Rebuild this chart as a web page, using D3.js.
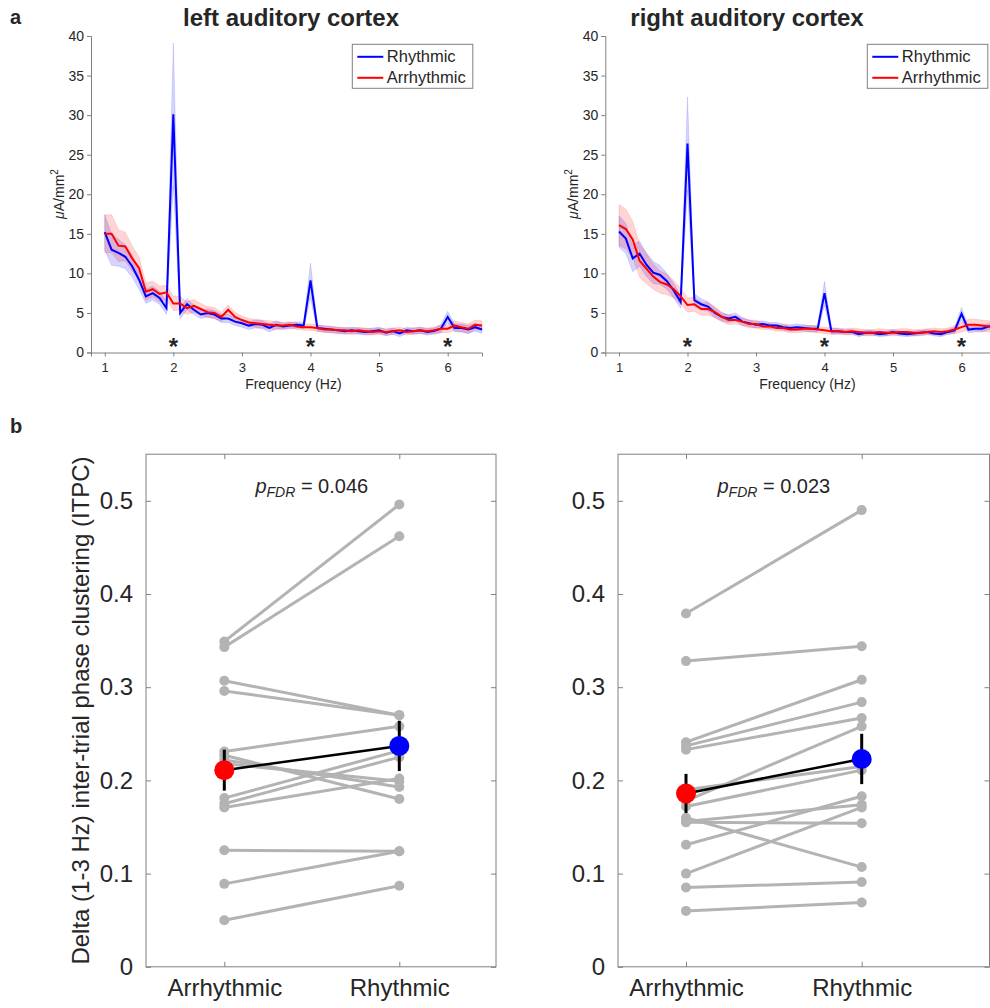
<!DOCTYPE html>
<html>
<head>
<meta charset="utf-8">
<script src="https://cdnjs.cloudflare.com/ajax/libs/d3/7.8.5/d3.min.js"></script>
<style>
body{margin:0;background:#fff;}
text{font-family:"Liberation Sans",Arial,sans-serif;fill:#262626;}
</style>
</head>
<body>
<div id="chart"></div>
<script>
var W = 990, H = 1008;

// ---- panel a: spectra, 0.1 Hz bins from 1 to 6.5 Hz
var freqs = d3.range(56).map(function(i){ return Math.round(10 + i) / 10; });
var starFreqs = [2, 4, 6];
var specTicksX = [1, 2, 3, 4, 5, 6];
var specTicksY = [0, 5, 10, 15, 20, 25, 30, 35, 40];

var leftRhy = [15.2,13.0,12.6,12.1,10.9,9.2,7.1,7.5,6.9,5.6,30.1,5.0,6.1,5.4,4.8,5.0,4.8,4.3,4.3,3.9,
  3.7,3.4,3.6,3.5,3.1,3.5,3.3,3.4,3.5,3.4,9.1,3.1,3.0,2.9,2.8,2.7,2.8,2.7,2.6,2.7,
  2.8,2.5,2.7,2.4,2.8,2.7,2.8,2.6,2.7,3.0,4.5,3.1,3.1,2.9,3.2,2.9];
var leftRhySem = [2.2,2.0,1.7,1.5,1.4,1.2,0.9,0.9,0.8,0.8,9.0,0.7,0.7,0.6,0.5,0.5,0.5,0.5,0.5,0.5,
  0.5,0.5,0.5,0.5,0.5,0.5,0.4,0.4,0.4,0.4,2.2,0.4,0.4,0.4,0.4,0.4,0.4,0.4,0.4,0.4,
  0.4,0.4,0.4,0.4,0.4,0.4,0.4,0.4,0.4,0.5,0.7,0.5,0.5,0.5,0.5,0.5];
var leftArr = [15.0,15.0,13.5,13.4,11.9,10.7,7.7,8.0,7.4,7.6,6.2,6.2,5.6,5.9,5.5,5.1,5.0,4.5,5.4,4.5,
  4.1,3.8,3.7,3.6,3.5,3.4,3.4,3.5,3.3,3.2,3.2,3.1,2.9,2.9,2.8,2.8,2.7,2.8,2.7,2.6,
  2.7,2.6,2.7,2.8,2.6,2.7,2.8,2.7,2.8,3.0,3.0,3.4,3.2,3.0,3.5,3.4];
var leftArrSem = [2.4,2.4,2.0,1.8,1.6,1.4,1.1,1.0,1.0,0.9,0.9,0.9,0.8,0.8,0.7,0.7,0.7,0.6,0.6,0.6,
  0.5,0.5,0.5,0.5,0.5,0.5,0.4,0.4,0.4,0.4,0.4,0.4,0.4,0.4,0.4,0.4,0.4,0.4,0.4,0.4,
  0.4,0.4,0.4,0.4,0.4,0.4,0.4,0.4,0.4,0.5,0.5,0.6,0.6,0.6,0.6,0.6];

var rightRhy = [15.3,14.4,11.9,12.5,11.1,10.1,9.8,9.0,7.8,6.4,26.4,6.6,6.1,5.8,5.0,4.5,4.3,4.5,3.9,3.7,
  3.5,3.6,3.4,3.4,3.2,3.1,3.2,3.1,3.0,3.0,7.5,2.7,2.7,2.6,2.6,2.3,2.5,2.5,2.3,2.4,
  2.6,2.4,2.3,2.4,2.5,2.6,2.4,2.3,2.6,2.8,4.9,2.9,3.0,3.0,3.3,3.2];
var rightRhySem = [2.0,1.9,1.7,1.6,1.5,1.4,1.2,1.0,0.9,0.8,5.9,0.8,0.7,0.6,0.6,0.5,0.5,0.5,0.5,0.4,
  0.4,0.4,0.4,0.4,0.4,0.4,0.4,0.4,0.4,0.4,1.5,0.4,0.3,0.3,0.3,0.3,0.3,0.3,0.3,0.3,
  0.3,0.3,0.3,0.3,0.3,0.3,0.3,0.3,0.3,0.4,0.8,0.4,0.4,0.4,0.4,0.4];
var rightArr = [16.1,15.6,14.3,11.6,10.6,9.6,8.9,8.6,8.0,7.1,6.0,6.1,5.5,5.5,5.1,4.5,4.1,4.1,3.9,3.6,
  3.6,3.3,3.3,3.1,3.1,2.9,2.9,3.0,3.0,2.9,2.8,2.7,2.7,2.6,2.7,2.6,2.5,2.5,2.6,2.5,
  2.5,2.6,2.6,2.5,2.5,2.6,2.7,2.6,2.7,2.9,3.2,3.5,3.5,3.4,3.3,3.4];
var rightArrSem = [2.6,2.5,2.3,2.1,1.9,1.6,1.4,1.3,1.1,1.0,0.9,0.9,0.8,0.8,0.7,0.6,0.6,0.5,0.5,0.5,
  0.5,0.4,0.4,0.4,0.4,0.4,0.4,0.4,0.4,0.4,0.4,0.4,0.4,0.4,0.4,0.4,0.4,0.4,0.4,0.4,
  0.4,0.4,0.4,0.4,0.4,0.4,0.4,0.4,0.4,0.5,0.6,0.7,0.7,0.7,0.7,0.7];

// ---- panel b: ITPC per subject (Arrhythmic, Rhythmic)
var conditions = ["Arrhythmic", "Rhythmic"];
var itpcTicks = [0, 0.1, 0.2, 0.3, 0.4, 0.5];
var leftArrItpc = [0.349,0.343,0.307,0.296,0.231,0.227,0.222,0.218,0.181,0.175,0.171,0.125,0.089,0.050];
var leftRhyItpc = [0.496,0.462,0.270,0.270,0.258,0.180,0.193,0.199,0.232,0.225,0.202,0.124,0.124,0.087];
var rightArrItpc = [0.379,0.328,0.241,0.237,0.233,0.190,0.178,0.172,0.160,0.156,0.155,0.131,0.100,0.085,0.060];
var rightRhyItpc = [0.490,0.344,0.308,0.284,0.267,0.215,0.258,0.211,0.107,0.174,0.154,0.183,0.171,0.091,0.069];
var leftMean = [0.211, 0.237], leftErr = [0.022, 0.027];
var rightMean = [0.186, 0.223], rightErr = [0.021, 0.027];
var pTexts = ["0.046", "0.023"];

var svg = d3.select("#chart").append("svg")
  .attr("width", W).attr("height", H)
  .style("font-family", "'Liberation Sans', Arial, sans-serif");

var axisCol = "#808080";

function styleAxis(g){
  g.select(".domain").attr("stroke", axisCol);
  g.selectAll(".tick line").attr("stroke", axisCol);
  g.selectAll(".tick text").attr("fill", "#262626");
}

function drawSpectrum(x0, x1, title, titleX, rhy, rhySem, arr, arrSem, legX){
  var xScale = d3.scaleLinear().domain([0.8, 6.5]).range([x0, x1]);
  var yScale = d3.scaleLinear().domain([0, 40]).range([352.5, 36]);
  var g = svg.append("g");

  var band = function(m, s){
    return d3.area()
      .x(function(d, i){ return xScale(freqs[i]); })
      .y0(function(d, i){ return yScale(m[i] - s[i]); })
      .y1(function(d, i){ return yScale(m[i] + s[i]); })(m);
  };
  var line = d3.line()
    .x(function(d, i){ return xScale(freqs[i]); })
    .y(function(d){ return yScale(d); });

  g.append("path").attr("d", band(rhy, rhySem))
    .attr("fill", "rgba(0,0,255,0.17)").attr("stroke", "rgba(0,0,255,0.15)").attr("stroke-width", 0.8);
  g.append("path").attr("d", band(arr, arrSem))
    .attr("fill", "rgba(255,0,0,0.17)").attr("stroke", "rgba(255,0,0,0.15)").attr("stroke-width", 0.8);
  g.append("path").attr("d", line(rhy)).attr("fill", "none").attr("stroke", "#0000ff").attr("stroke-width", 2);
  g.append("path").attr("d", line(arr)).attr("fill", "none").attr("stroke", "#ff0000").attr("stroke-width", 2);

  var ax = g.append("g").attr("transform", "translate(0,352.5)")
    .call(d3.axisBottom(xScale).tickValues(specTicksX).tickSize(4).tickFormat(d3.format("d")));
  ax.selectAll(".tick text").attr("font-size", 13).attr("dy", "0.95em");
  styleAxis(ax);
  var ay = g.append("g").attr("transform", "translate(" + x0 + ",0)")
    .call(d3.axisLeft(yScale).tickValues(specTicksY).tickSize(4));
  ay.selectAll(".tick text").attr("font-size", 14);
  styleAxis(ay);

  g.selectAll(".star").data(starFreqs).enter().append("text")
    .attr("x", function(d){ return xScale(d); }).attr("y", 355)
    .attr("text-anchor", "middle").attr("font-size", 24).attr("font-weight", "bold")
    .attr("fill", "#000").text("*");

  g.append("text").attr("x", xScale(3.75)).attr("y", 389).attr("text-anchor", "middle")
    .attr("font-size", 14).text("Frequency (Hz)");

  var yl = g.append("text").attr("transform", "translate(" + (x0 - 27) + ",194) rotate(-90)")
    .attr("text-anchor", "middle").attr("font-size", 14);
  yl.append("tspan").attr("font-style", "italic").text("\u03BC");
  yl.append("tspan").text("A/mm");
  yl.append("tspan").attr("dy", -6).attr("font-size", 10).text("2");

  g.append("text").attr("x", titleX).attr("y", 26).attr("text-anchor", "middle")
    .attr("font-size", 24).attr("font-weight", "bold").attr("fill", "#000").text(title);

  // legend
  var lg = g.append("g").attr("transform", "translate(" + legX + ",44.3)");
  lg.append("rect").attr("width", 120.5).attr("height", 44).attr("fill", "#fff")
    .attr("stroke", "#808080").attr("stroke-width", 1);
  var items = [["Rhythmic", "#0000ff"], ["Arrhythmic", "#ff0000"]];
  items.forEach(function(it, i){
    var yy = 12.5 + i * 21;
    lg.append("line").attr("x1", 5).attr("x2", 31).attr("y1", yy).attr("y2", yy)
      .attr("stroke", it[1]).attr("stroke-width", 2);
    lg.append("text").attr("x", 34.5).attr("y", yy + 5.5).attr("font-size", 16.5)
      .attr("fill", "#000").text(it[0]);
  });
}

drawSpectrum(91, 482, "left auditory cortex", 291, leftRhy, leftRhySem, leftArr, leftArrSem, 352.3);
drawSpectrum(605.3, 995.8, "right auditory cortex", 747, rightRhy, rightRhySem, rightArr, rightArrSem, 867.3);

// cat1/cat2: pixel positions of the two conditions; bx0/bx1: box edges
function drawItpc(cat1, cat2, bx0, bx1, arrV, rhyV, mean, err, pText){
  var xScale = d3.scaleLinear().domain([1, 2]).range([cat1, cat2]);
  var yScale = d3.scaleLinear().domain([0, 0.55]).range([966.8, 454.2]);
  var g = svg.append("g");

  g.append("rect").attr("x", bx0).attr("y", 454.2).attr("width", bx1 - bx0).attr("height", 966.8 - 454.2)
    .attr("fill", "none").attr("stroke", axisCol).attr("stroke-width", 1);

  var ay = g.append("g").attr("transform", "translate(" + bx0 + ",0)")
    .call(d3.axisLeft(yScale).tickValues(itpcTicks).tickSize(-5).tickPadding(13).tickFormat(function(d){ return d === 0 ? "0" : d3.format(".1f")(d); }));
  ay.selectAll(".tick text").attr("font-size", 24);
  ay.select(".domain").remove();
  styleAxis(ay);
  var ay2 = g.append("g").attr("transform", "translate(" + bx1 + ",0)")
    .call(d3.axisRight(yScale).tickValues(itpcTicks).tickSize(-5).tickFormat(""));
  ay2.select(".domain").remove();
  styleAxis(ay2);
  var ax = g.append("g").attr("transform", "translate(0,966.8)")
    .call(d3.axisBottom(xScale).tickValues([1, 2]).tickSize(-5).tickPadding(12).tickFormat(function(d){ return conditions[d - 1]; }));
  ax.selectAll(".tick text").attr("font-size", 24);
  ax.select(".domain").remove();
  styleAxis(ax);
  var ax2 = g.append("g").attr("transform", "translate(0,454.2)")
    .call(d3.axisTop(xScale).tickValues([1, 2]).tickSize(-5).tickFormat(""));
  ax2.select(".domain").remove();
  styleAxis(ax2);

  var grey = "#b3b3b3";
  arrV.forEach(function(v, i){
    g.append("line").attr("x1", xScale(1)).attr("y1", yScale(v))
      .attr("x2", xScale(2)).attr("y2", yScale(rhyV[i]))
      .attr("stroke", grey).attr("stroke-width", 3);
  });
  g.selectAll(".da").data(arrV).enter().append("circle")
    .attr("cx", xScale(1)).attr("cy", function(d){ return yScale(d); }).attr("r", 5).attr("fill", grey);
  g.selectAll(".dr").data(rhyV).enter().append("circle")
    .attr("cx", xScale(2)).attr("cy", function(d){ return yScale(d); }).attr("r", 5).attr("fill", grey);

  [0, 1].forEach(function(i){
    g.append("line").attr("x1", xScale(i + 1)).attr("x2", xScale(i + 1))
      .attr("y1", yScale(mean[i] - err[i])).attr("y2", yScale(mean[i] + err[i]))
      .attr("stroke", "#000").attr("stroke-width", 3);
  });
  g.append("line").attr("x1", xScale(1)).attr("y1", yScale(mean[0]))
    .attr("x2", xScale(2)).attr("y2", yScale(mean[1]))
    .attr("stroke", "#000").attr("stroke-width", 2.5);
  g.append("circle").attr("cx", xScale(1)).attr("cy", yScale(mean[0])).attr("r", 10).attr("fill", "#ff0000");
  g.append("circle").attr("cx", xScale(2)).attr("cy", yScale(mean[1])).attr("r", 10).attr("fill", "#0000ff");

  var pt = g.append("text").attr("x", xScale(1.5)).attr("y", 493).attr("text-anchor", "middle")
    .attr("font-size", 20).attr("fill", "#000");
  pt.append("tspan").attr("font-style", "italic").text("p");
  pt.append("tspan").attr("font-style", "italic").attr("font-size", 14).attr("dy", 4).text("FDR");
  pt.append("tspan").attr("dy", -4).text(" = " + pText);
}

drawItpc(224.3, 399.3, 146, 496, leftArrItpc, leftRhyItpc, leftMean, leftErr, pTexts[0]);
drawItpc(686, 861.7, 618, 989.5, rightArrItpc, rightRhyItpc, rightMean, rightErr, pTexts[1]);

svg.append("text").attr("transform", "translate(89,710.5) rotate(-90)").attr("text-anchor", "middle")
  .attr("font-size", 24).text("Delta (1-3 Hz) inter-trial phase clustering (ITPC)");

svg.append("text").attr("x", 10).attr("y", 24).attr("font-size", 20).attr("font-weight", "bold")
  .attr("fill", "#000").text("a");
svg.append("text").attr("x", 10).attr("y", 433).attr("font-size", 20).attr("font-weight", "bold")
  .attr("fill", "#000").text("b");
</script>
</body>
</html>
